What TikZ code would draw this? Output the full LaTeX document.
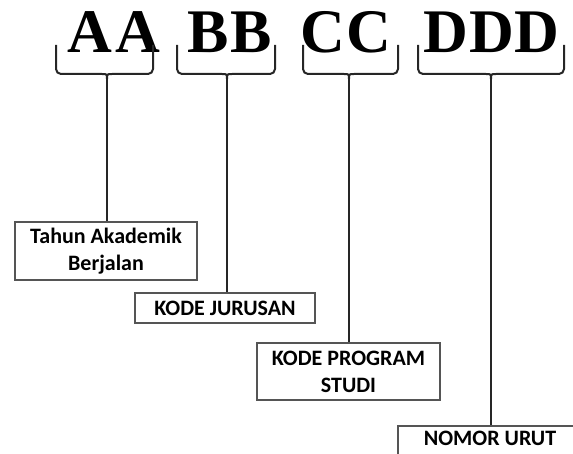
\documentclass[tikz,border=0pt]{standalone}
\usepackage{fontspec}
\setmainfont{Liberation Serif}
\newfontfamily\boxfont{Carlito}
\usetikzlibrary{positioning, calc}
\definecolor{boxgray}{RGB}{85,85,85}
\tikzset{
  % big code letters
  codeletter/.style={font=\fontsize{62}{62}\selectfont\bfseries, anchor=base, inner sep=0pt},
  % curly brace under each group
  bracket/.style={line width=2pt, black!85},
  stem/.style={line width=2.4pt, black!85},
  % label boxes
  labelbox/.style={
    rectangle, draw=boxgray, line width=1.8pt, align=center,
    font=\boxfont\bfseries\fontsize{22}{27}\selectfont, inner sep=0pt
  }
}
\begin{document}
\begin{tikzpicture}[x=1pt, y=-1pt]
  \useasboundingbox (0,0) rectangle (573,454);
  \clip (0,0) rectangle (573,454);

  % Code letters
  \node[codeletter] (aa) at (114,53) {A\kern3pt A};
  \node[codeletter] (bb) at (230,53) {B\kern2pt B};
  \node[codeletter] (cc) at (346,53) {C\kern1pt C};
  \node[codeletter] (ddd) at (491.5,53) {D\kern1pt D\kern1pt D};

  % Braces
  \foreach \l/\r/\c/\n in {56/153/107/aa, 177/275/227/bb, 303/398/349/cc, 418/564/491/ddd} {
    \draw[bracket] (\l,45) -- (\l,69) to[out=-90,in=180] (\l+5,74) -- (\c-5,74)
      .. controls (\c,74) .. (\c,79) .. controls (\c,74) .. (\c+5,74)
      -- (\r-5,74) to[out=0,in=-90] (\r,69) -- (\r,45);
    \coordinate (tip\n) at (\c,78);
  }

  % Label boxes
  \node[labelbox, minimum width=182pt, minimum height=58pt] (tahun) at (106,251) {Tahun Akademik\\Berjalan};
  \node[labelbox, minimum width=180pt, minimum height=30pt] (jurusan) at (225,308) {KODE JURUSAN};
  \node[labelbox, minimum width=183pt, minimum height=57pt] (prodi) at (348.5,371.5) {KODE PROGRAM\\STUDI};
  \node[labelbox, minimum width=184pt, anchor=north, inner ysep=5pt, text depth=24pt] (urut) at (490,425) {NOMOR URUT};

  % Stems
  \draw[stem] (tipaa) -- (tipaa |- tahun.north);
  \draw[stem] (tipbb) -- (tipbb |- jurusan.north);
  \draw[stem] (tipcc) -- (tipcc |- prodi.north);
  \draw[stem] (tipddd) -- (tipddd |- urut.north);
\end{tikzpicture}
\end{document}
